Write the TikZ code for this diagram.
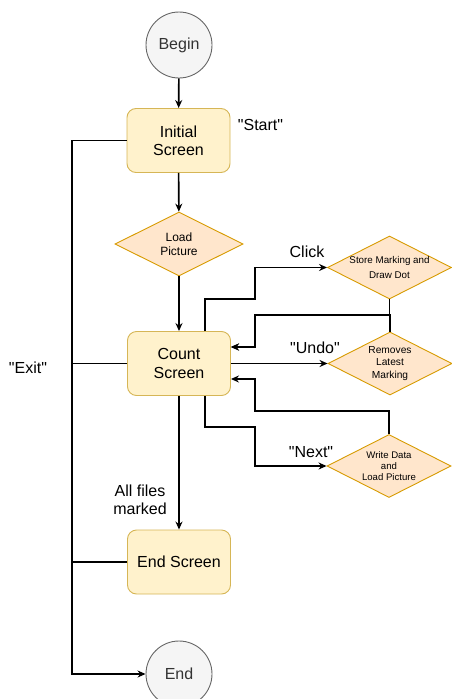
\documentclass[tikz,border=0pt]{standalone}
\usepackage{fontspec}
\setmainfont{Liberation Sans}
\usetikzlibrary{shapes.geometric,arrows.meta}
\definecolor{termfill}{HTML}{F5F5F5}
\definecolor{termdraw}{HTML}{666666}
\definecolor{termtext}{HTML}{333333}
\definecolor{screenfill}{HTML}{FFF2CC}
\definecolor{screendraw}{HTML}{D6B656}
\definecolor{actionfill}{HTML}{FFE6CC}
\definecolor{actiondraw}{HTML}{D79B00}
\newcommand{\quoted}[1]{\textquotedbl#1\textquotedbl}
\begin{document}
\begin{tikzpicture}[x=1pt, y=-1pt,
        terminal/.style={circle, draw=termdraw, fill=termfill, text=termtext, line width=0.9pt, minimum size=66pt, inner sep=0pt, font=\fontsize{16}{18.4}\selectfont},
        screen/.style={rectangle, rounded corners=9pt, draw=screendraw, fill=screenfill, line width=0.9pt, minimum width=103pt, minimum height=64pt, align=center, font=\fontsize{16}{18.4}\selectfont},
        action/.style={diamond, aspect=2, draw=actiondraw, fill=actionfill, line width=0.9pt, inner sep=0pt, minimum width=124pt, minimum height=63pt, align=center, font=\fontsize{9.8}{11.8}\selectfont},
        caption/.style={align=center, inner sep=1pt, font=\fontsize{16}{18.4}\selectfont},
        flow/.style={line width=1.6pt, -{Stealth[length=8pt, width=7pt]}},
        plain/.style={line width=1.6pt}
    ]
        \useasboundingbox (0,0) rectangle (452,699);
        \node[terminal] (begin) at (179,45) {Begin};
        \node[screen] (initial) at (178.5,140.5) {Initial\\Screen};
        \node[action, minimum width=128pt, minimum height=64pt, font=\fontsize{12}{14.3}\selectfont] (load) at (179,244) {Load\\Picture};
        \node[screen] (count) at (179,363.5) {Count\\Screen};
        \node[screen] (endscreen) at (179,562) {End Screen};
        \node[terminal] (end) at (179,674) {End};
        \node[action, font=\fontsize{9.8}{14.3}\selectfont] (store) at (389.5,267.5) {Store Marking and\\Draw Dot};
        \node[action, font=\fontsize{10.2}{12.2}\selectfont] (remove) at (390,363.5) {Removes\\Latest\\Marking};
        \node[action, font=\fontsize{9.6}{11.3}\selectfont] (write) at (389,466) {Write Data\\and\\Load Picture};

        \node[caption] (start) at (260.5,125) {\quoted{Start}};
        \node[caption] (click) at (307,252) {Click};
        \node[caption] (undo) at (315,348) {\quoted{Undo}};
        \node[caption] (next) at (311,452) {\quoted{Next}};
        \node[caption] (exit) at (28,368) {\quoted{Exit}};
        \node[caption] (allfiles) at (140,500) {All files\\marked};

        \coordinate (exitrail) at (72,0);
        \coordinate (backrail) at (255,0);

        \draw[flow] (begin) -- (initial);
        \draw[flow] (initial) -- (load);
        \draw[flow] (load) -- (count);
        \draw[flow] (count) -- (endscreen);
        \draw[flow] ([xshift=26pt]count.north) |- (backrail |- 0,299) |- (store.west);
        \draw[flow] (store.south) |- (backrail |- 0,315) |- ([yshift=16.5pt]count.east);
        \draw[flow] (remove.north) |- (backrail |- 0,315) |- ([yshift=16.5pt]count.east);
        \draw[flow] (count.east) -- (remove.west);
        \draw[flow] ([xshift=26pt]count.south) |- (backrail |- 0,427) |- (write.west);
        \draw[flow] (write.north) |- (backrail |- 0,411) |- ([yshift=-15.5pt]count.east);
        \draw[flow] (initial.west) -| (exitrail |- end.west) -- (end.west);
        \draw[plain] (count.west) -- (exitrail |- count.west);
        \draw[plain] (endscreen.west) -- (exitrail |- endscreen.west);
    \end{tikzpicture}
\end{document}
